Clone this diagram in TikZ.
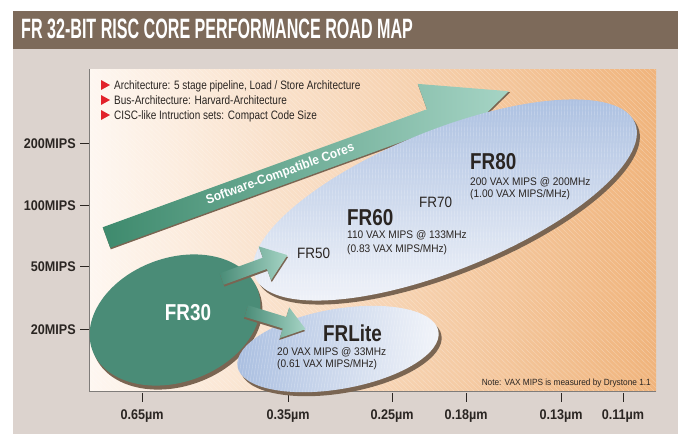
\documentclass[tikz,border=0pt]{standalone}
\usepackage{fontspec}
\setmainfont{Liberation Sans}
\newfontfamily\titlefont[FakeStretch=0.575]{Liberation Sans}
\newfontfamily\condfont[FakeStretch=0.82]{Liberation Sans}
\newfontfamily\axfont[FakeStretch=0.9]{Liberation Sans}
\newfontfamily\subfont[FakeStretch=0.92]{Liberation Sans}
\definecolor{hdr}{HTML}{7D6A5A}
\definecolor{panel}{HTML}{DCD3CE}
\definecolor{bgL}{HTML}{FEF7F1}
\definecolor{bgM}{HTML}{F8DAC0}
\definecolor{bgR}{HTML}{F0B47C}
\definecolor{grnD}{HTML}{3E8A6D}
\definecolor{grnL}{HTML}{A6D4C5}
\definecolor{fr30}{HTML}{4A8C77}
\definecolor{ellL}{HTML}{A9BEE0}
\definecolor{ellR}{HTML}{F3F5FA}
\definecolor{shadow}{HTML}{7A6552}
\definecolor{bullet}{HTML}{E2222B}
\definecolor{ink}{HTML}{2A2522}
\tikzset{
  ylab/.style={anchor=base east, inner sep=0, text=ink, font=\axfont\bfseries\fontsize{14}{14}\selectfont},
  xlab/.style={anchor=base, inner sep=0, text=ink, font=\axfont\bfseries\fontsize{14}{14}\selectfont},
  tickline/.style={draw=ink, line width=1pt},
  bul/.style={anchor=base west, inner sep=0, text=ink, font=\condfont\fontsize{12.2}{12.2}\selectfont},
  big/.style={anchor=base west, inner sep=0, text=ink, font=\condfont\bfseries\fontsize{23}{23}\selectfont},
  mid/.style={anchor=base west, inner sep=0, text=ink, font=\axfont\fontsize{15}{15}\selectfont},
  small/.style={anchor=base west, inner sep=0, text=ink, font=\subfont\fontsize{11}{11}\selectfont},
  tri/.style={fill=bullet, draw=none},
  hatch/.style={white, opacity=0.3, line width=0.4pt},
}
\begin{document}
\begin{tikzpicture}[x=1pt,y=-1pt]
\useasboundingbox (0,0) rectangle (678,434);
\fill[white] (0,0) rectangle (678,434);
% header and panel
\fill[hdr] (13,11) rectangle (678,49);
\fill[panel] (13,49) rectangle (678,434);
\node[anchor=base west, inner sep=0, text=white, font=\titlefont\bfseries\fontsize{28}{28}\selectfont] (title) at (21,38) {FR 32-BIT RISC CORE PERFORMANCE ROAD MAP};
% plot area
\shade[left color=bgL, middle color=bgM, right color=bgR] (89,69) rectangle (656,391);
\begin{scope}
\clip (89,69) rectangle (656,391);
\foreach \i in {0,5,...,900} {
  \draw[hatch] (89+\i-330,69) -- (89+\i,391);
}
\end{scope}
\draw[ink!60, line width=0.6pt] (89,69) -- (89,391) -- (656,391);
% y axis
\foreach \yy/\lab/\nm in {143/200MIPS/ya, 205/100MIPS/yb, 266/50MIPS/yc, 329/20MIPS/yd} {
  \draw[tickline] (80,\yy) -- (89,\yy);
  \node[ylab] (\nm) at (76,\yy+5) {\lab};
}
% x axis
\foreach \xx/\lab/\nm in {142/0.65µm/xa, 288/0.35µm/xb, 392/0.25µm/xc, 466/0.18µm/xd, 561/0.13µm/xe, 623/0.11µm/xf} {
  \draw[tickline] (\xx,393) -- (\xx,402);
  \node[xlab] (\nm) at (\xx,419) {\lab};
}
% bullets
\foreach \yy/\txt/\nm in {85/{Architecture: 5 stage pipeline, Load / Store Architecture}/ba, 100/{Bus-Architecture: Harvard-Architecture}/bb, 115/{CISC-like Intruction sets: Compact Code Size}/bc} {
  \fill[tri] (101,\yy-5) -- (110,\yy) -- (101,\yy+5) -- cycle;
  \node[bul] (\nm) at (114,\yy+4) {\txt};
}
% big arrow
\begin{scope}[shift={(107,239)}, rotate=20]
  \fill[shadow] (0,-11) -- (345,-11) -- (345,-38) -- (429,0) -- (345,38) -- (345,11) -- (0,11) -- cycle;
  \shade[left color=grnD, right color=grnL] (0,-12.5) -- (345,-12.5) -- (345,-39.5) -- (428,-1.5) -- (345,36.5) -- (345,9.5) -- (0,9.5) -- cycle;
  \node[transform shape, text=white, font=\subfont\bfseries\fontsize{13}{13}\selectfont, inner sep=0] (swc) at (185,-1.5) {Software-Compatible Cores};
\end{scope}
% big ellipse (FR50-FR80)
\fill[shadow] (448,204) ellipse [x radius=205, y radius=70, rotate=22];
\shade[left color=ellL, right color=ellR, shading angle=0] (445,200) [rotate around={22:(445,200)}] ellipse [x radius=205, y radius=70];
\begin{scope}
\clip (445,200) [rotate around={22:(445,200)}] ellipse [x radius=205, y radius=70];
\foreach \i in {0,3,...,420} {
  \draw[hatch] (235+\i,100) -- (225+\i,310);
}
\end{scope}
% FR30 blob
\fill[shadow] (177,324) ellipse [x radius=88, y radius=62, rotate=20];
\fill[fr30] (175,320) ellipse [x radius=88, y radius=62, rotate=20];
% FRLite ellipse
\fill[shadow] (341,353) ellipse [x radius=102, y radius=40, rotate=10];
\shade[left color=ellL, right color=ellR] (338,349) [rotate around={10:(338,349)}] ellipse [x radius=102, y radius=40];
\begin{scope}
\clip (338,349) [rotate around={10:(338,349)}] ellipse [x radius=102, y radius=40];
\foreach \i in {0,3,...,240} {
  \draw[hatch] (230+\i,300) -- (215+\i,395);
}
\end{scope}
% small arrow to FR50
\begin{scope}[shift={(222,280)}, rotate=20]
  \fill[shadow] (0,-5) -- (46,-5) -- (46,-17) -- (70,1) -- (46,19) -- (46,7) -- (0,7) -- cycle;
  \shade[left color=fr30, right color=grnL] (0,-7) -- (46,-7) -- (46,-19) -- (70,-1) -- (46,17) -- (46,5) -- (0,5) -- cycle;
\end{scope}
% small arrow to FRLite
\begin{scope}[shift={(246,312)}, rotate=-17]
  \fill[shadow] (0,-5) -- (40,-5) -- (40,-15) -- (62,1) -- (40,17) -- (40,7) -- (0,7) -- cycle;
  \shade[left color=fr30, right color=grnL] (0,-7) -- (40,-7) -- (40,-17) -- (62,-1) -- (40,15) -- (40,5) -- (0,5) -- cycle;
\end{scope}
% labels
\node[anchor=base, inner sep=0, text=white, font=\condfont\bfseries\fontsize{23}{23}\selectfont] (fr30) at (188,320) {FR30};
\node[mid] (fr50) at (297,258) {FR50};
\node[mid] (fr70) at (419,207) {FR70};
\node[big] (fr60) at (347,225) {FR60};
\node[small] (fr60a) at (347,238) {110 VAX MIPS @ 133MHz};
\node[small] (fr60b) at (347,252) {(0.83 VAX MIPS/MHz)};
\node[big] (fr80) at (470,169) {FR80};
\node[small] (fr80a) at (470,185) {200 VAX MIPS @ 200MHz};
\node[small] (fr80b) at (470,197) {(1.00 VAX MIPS/MHz)};
\node[big] (frlite) at (323,341) {FRLite};
\node[small] (frlitea) at (277,355) {20 VAX MIPS @ 33MHz};
\node[small] (fritelb) at (277,367) {(0.61 VAX MIPS/MHz)};
\node[anchor=base east, inner sep=0, text=ink, font=\subfont\fontsize{9}{9}\selectfont] (note) at (651,385) {Note: VAX MIPS is measured by Drystone 1.1};
\end{tikzpicture}
\end{document}
